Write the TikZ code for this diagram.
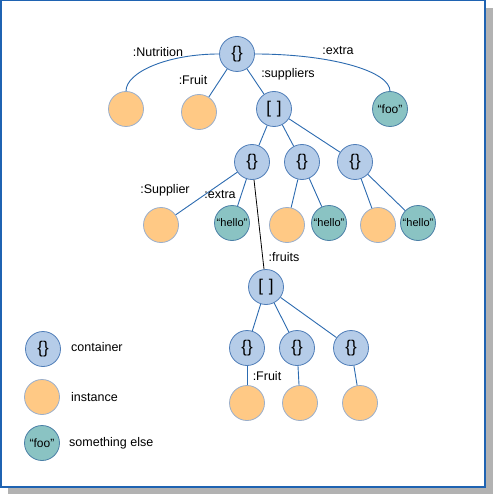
\documentclass[tikz,border=0pt]{standalone}
\usepackage{fontspec}
\setmainfont{Liberation Sans}
\usepackage{tikz}
\usetikzlibrary{positioning, arrows.meta}
\definecolor{contfill}{HTML}{B5CCE8}
\definecolor{contline}{HTML}{4F7DB8}
\definecolor{instfill}{HTML}{FFC985}
\definecolor{instline}{HTML}{9AAFCC}
\definecolor{othfill}{HTML}{8AC3C3}
\definecolor{othline}{HTML}{4A7FA6}
\definecolor{edgeblue}{HTML}{2C6BB0}
\definecolor{framecol}{HTML}{1F63B2}

\begin{document}
\begin{tikzpicture}[x=1pt, y=-1pt,
  container/.style={circle, draw=contline, fill=contfill, line width=0.8pt,
                    minimum size=35pt, inner sep=0pt, font=\fontsize{17}{17}\selectfont},
  instance/.style={circle, draw=instline, fill=instfill, line width=0.8pt,
                   minimum size=35pt, inner sep=0pt},
  other/.style={circle, draw=othline, fill=othfill, line width=0.8pt,
                minimum size=35pt, inner sep=0pt, font=\fontsize{11}{11}\selectfont},
  lbl/.style={font=\fontsize{12.5}{14}\selectfont, inner sep=0pt},
  edge/.style={draw=edgeblue, line width=0.9pt}]
  \useasboundingbox (0,0) rectangle (493,494);
  % Frame with shadow
  \fill[black!30] (8,8) rectangle (493,494);
  \draw[framecol, fill=white, line width=1.5pt] (0.75,0.75) rectangle (485,487);

  % Top level
  \node[container] (root) at (237,54) {\{\}};
  \node[instance] (nut) at (126,109) {};
  \node[instance] (fruit) at (199,112) {};
  \node[container] (supp) at (274,109) {[\,\,]};
  \node[other, font=\fontsize{12}{12}\selectfont] (foo) at (390,109) {``foo''};
  \draw[edge] (root.west) .. controls (168,54) and (126,72) .. (nut.north);
  \draw[edge] (root.east) .. controls (330,54) and (390,71) .. (foo.north);
  \draw[edge] (root)--(fruit); \draw[edge] (root)--(supp);
  \node[lbl] at (158,52) {:Nutrition};
  \node[lbl] at (338,51) {:extra};
  \node[lbl] at (193,80) {:Fruit};
  \node[lbl] at (288,74) {:suppliers};

  % Suppliers
  \node[container] (s1) at (252,162) {\{\}};
  \node[container] (s2) at (302,162) {\{\}};
  \node[container] (s3) at (355,162) {\{\}};
  \node[instance] (i1) at (161,225) {};
  \node[other] (h1) at (232,223) {``hello''};
  \node[instance] (i2) at (287,225) {};
  \node[other] (h2) at (329,223) {``hello''};
  \node[instance] (i3) at (378,225) {};
  \node[other] (h3) at (418,223) {``hello''};
  \draw[edge] (supp)--(s1); \draw[edge] (supp)--(s2); \draw[edge] (supp)--(s3);
  \draw[edge] (s1)--(i1); \draw[edge] (s1)--(h1);
  \draw[edge] (s2)--(i2); \draw[edge] (s2)--(h2);
  \draw[edge] (s3)--(i3); \draw[edge] (s3)--(h3);
  \node[lbl] at (165,190) {:Supplier};
  \node[lbl] at (220,195) {:extra};

  % Fruits
  \node[container] (frs) at (266,287) {[\,\,]};
  \node[container] (f1) at (247,348) {\{\}};
  \node[container] (f2) at (297,348) {\{\}};
  \node[container] (f3) at (351,348) {\{\}};
  \node[instance] (j1) at (247,403) {};
  \node[instance] (j2) at (300,403) {};
  \node[instance] (j3) at (360,403) {};
  \draw[black, line width=0.8pt] (s1)--(frs);
  \draw[edge] (frs)--(f1); \draw[edge] (frs)--(f2); \draw[edge] (frs)--(f3);
  \draw[edge] (f1)--(j1); \draw[edge] (f2)--(j2); \draw[edge] (f3)--(j3);
  \node[lbl] at (284,257) {:fruits};
  \node[lbl] at (267,376) {:Fruit};

  % Legend
  \node[container] (lc) at (43,349) {\{\}};
  \node[instance] (li) at (42,397) {};
  \node[other, font=\fontsize{12}{12}\selectfont] (lo) at (42,443) {``foo''};
  \node[lbl, anchor=west] (lct) at (71,347) {container};
  \node[lbl, anchor=west] (lit) at (71,397) {instance};
  \node[lbl, anchor=west] (lot) at (69,443) {something else};
\end{tikzpicture}
\end{document}
